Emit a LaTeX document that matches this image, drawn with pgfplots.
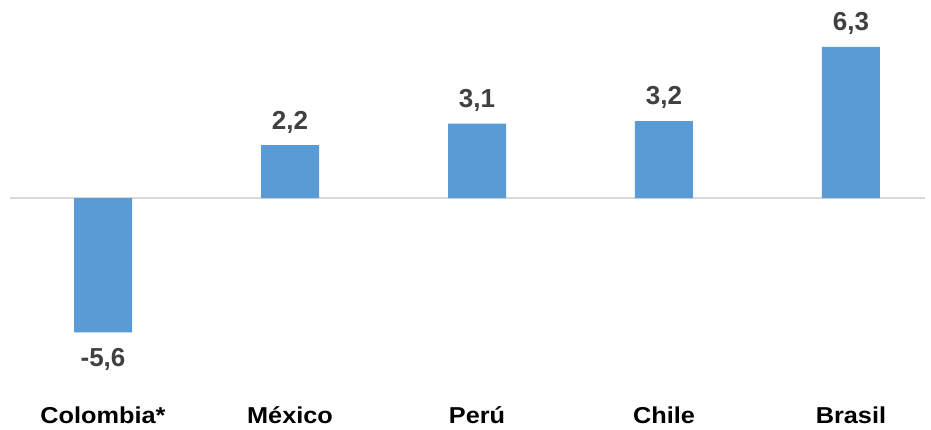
\documentclass[border=0pt]{standalone}
\usepackage{pgfplots}
\pgfplotsset{compat=1.18}
\usepackage{fontspec}
\setmainfont{Liberation Sans}
\newfontfamily\catfont{Liberation Sans}[FakeStretch=1.1]
\definecolor{barblue}{HTML}{5B9BD5}
\definecolor{labgray}{HTML}{404040}
\definecolor{zerogray}{HTML}{D9D9D9}
\begin{document}
\begin{tikzpicture}
\begin{axis}[
    scale only axis,
    width=931bp, height=429bp,
    xmin=-0.551, xmax=4.428,
    ymin=-9.625, ymax=8.25,
    axis lines=none,
    clip=false,
  ]
  \addplot[sharp plot, draw=zerogray, line width=1.5bp, no marks]
    coordinates {(-0.497,0) (4.396,0)};
  \addplot[ybar, bar width=58bp, bar shift=0pt, draw=none, fill=barblue,
    nodes near coords={\pgfmathprintnumber[use comma,fixed,fixed zerofill,precision=1,assume math mode=true]{\pgfplotspointmeta}},
    nodes near coords align=vertical,
    every node near coord/.append style={font=\bfseries\fontsize{26bp}{30bp}\selectfont,
        text=labgray, inner xsep=0pt, inner ysep=16bp, text depth=0pt}]
    coordinates {(0,-5.6) (1,2.2) (2,3.1) (3,3.2) (4,6.3)};
  \foreach \i/\lab in {0/Colombia*,1/México,2/Perú,3/Chile,4/Brasil}{
    \edef\temp{\noexpand\node[anchor=base, font=\noexpand\catfont\noexpand\bfseries\noexpand\fontsize{23bp}{28bp}\noexpand\selectfont, text=black, inner sep=0pt] at (axis cs:\i,-9.4) {\lab};}
    \temp
  }
\end{axis}
\pgfresetboundingbox
\useasboundingbox (current axis.south west) rectangle (current axis.north east);
\end{tikzpicture}
\end{document}
